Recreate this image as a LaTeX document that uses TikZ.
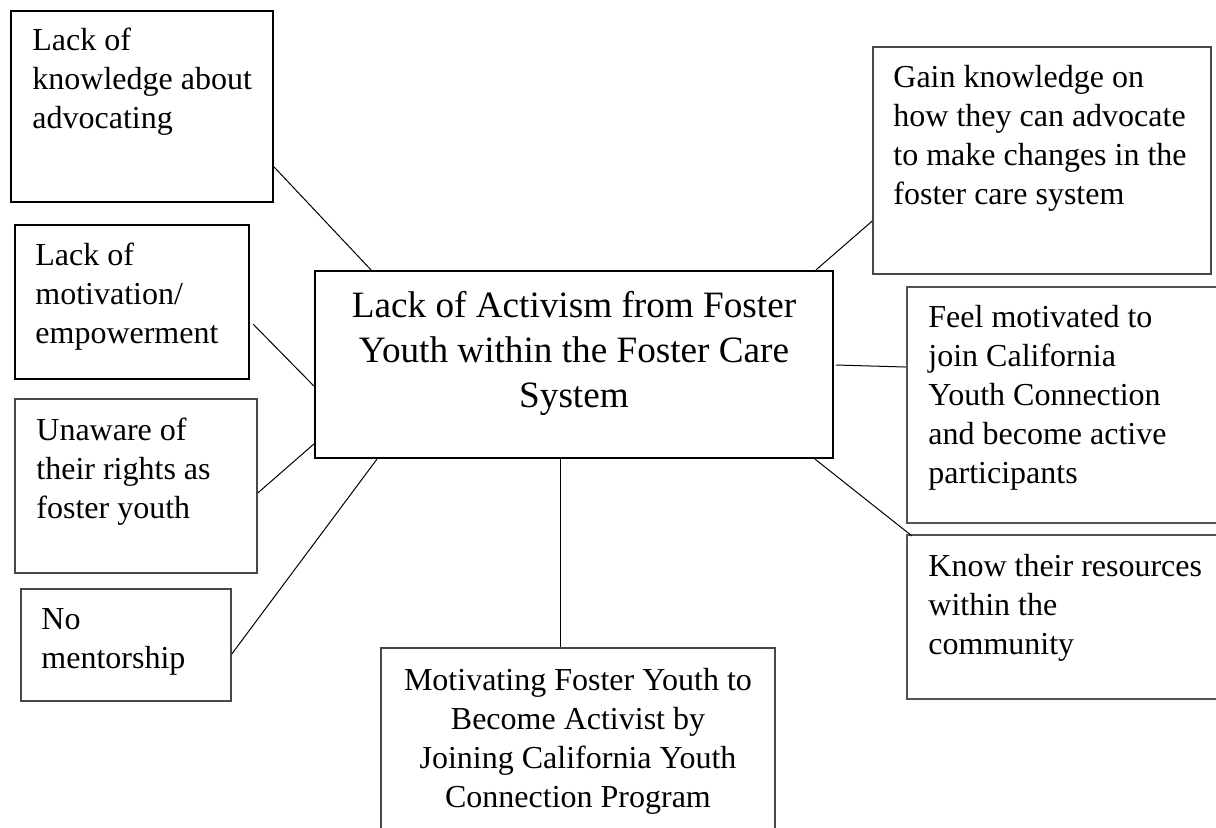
\documentclass[tikz,border=0pt]{standalone}
\usepackage{fontspec}
\setmainfont{Liberation Serif}
\usetikzlibrary{fit}
\begin{document}
\begin{tikzpicture}[x=0.5pt,y=-0.5pt,
  thickbox/.style={draw=black,line width=1.1pt,inner sep=0pt},
  thinbox/.style={draw=black!72,line width=0.75pt,inner sep=0pt},
  grayboxthick/.style={draw=black!68,line width=1.1pt,inner sep=0pt},
  txt/.style={font=\fontsize{16}{19.5}\selectfont,align=left,anchor=base west,inner sep=0pt},
  btxt/.style={font=\fontsize{16}{19.4}\selectfont,align=center,anchor=base,inner sep=0pt},
  ctxt/.style={font=\fontsize{18.6}{22.5}\selectfont,align=center,anchor=base,inner sep=0pt},
  link/.style={draw=black,line width=0.5pt}]
\useasboundingbox (0,0) rectangle (1216,827);
\fill[white] (0,0) rectangle (1216,827);

% boxes
\node[thickbox,fit={(11,11) (273,202)}] (b1) {};
\node[thickbox,fit={(15,225) (249,379)}] (b2) {};
\node[thinbox,fit={(15,399) (257,573)}] (b3) {};
\node[thinbox,fit={(21,589) (231,701)}] (b4) {};
\node[thickbox,fit={(315,271) (833,458)}] (c) {};
\node[thinbox,fit={(381,648) (775,840)}] (bot) {};
\node[thinbox,fit={(873,47) (1211,274)}] (r1) {};
\node[grayboxthick,fit={(907,287) (1230,523)}] (r2) {};
\node[grayboxthick,fit={(907,535) (1230,699)}] (r3) {};

% texts (anchored at the baseline of their last line)
\node[txt] (t1) at (32,128) {Lack of\\knowledge about\\advocating};
\node[txt] (t2) at (35,343) {Lack of\\motivation/\\empowerment};
\node[txt] (t3) at (36,518) {Unaware of\\their rights as\\foster youth};
\node[txt] (t4) at (41,668) {No\\mentorship};
\node[ctxt] (tc) at (574,407) {Lack of Activism from Foster\\Youth within the Foster Care\\System};
\node[btxt] (tb) at (578,807) {Motivating Foster Youth to\\Become Activist by\\Joining California Youth\\Connection Program};
\node[txt] (tr1) at (893,204) {Gain knowledge on\\how they can advocate\\to make changes in the\\foster care system};
\node[txt] (tr2) at (928,483) {Feel motivated to\\join California\\Youth Connection\\and become active\\participants};
\node[txt] (tr3) at (928,654) {Know their resources\\within the\\community};

% connector end points
\coordinate (p1) at (b1.east |- 0,167);
\coordinate (q1) at (c.north -| 371,0);
\coordinate (p2) at (253,324);
\coordinate (q2) at (c.west |- 0,386);
\coordinate (p3) at (b3.east |- 0,493);
\coordinate (q3) at (c.west |- 0,444);
\coordinate (p4) at (b4.east |- 0,654);
\coordinate (q4) at (c.south -| 377,0);
\coordinate (q5) at (c.south -| 560,0);
\coordinate (p5) at (bot.north -| 560,0);
\coordinate (q6) at (c.north -| 816,0);
\coordinate (p6) at (r1.west |- 0,221);
\coordinate (q7) at (836,365);
\coordinate (p7) at (r2.west |- 0,367);
\coordinate (q8) at (c.south -| 815,0);
\coordinate (p8) at (912,536);

\draw[link] (p1) -- (q1);
\draw[link] (p2) -- (q2);
\draw[link] (p3) -- (q3);
\draw[link] (p4) -- (q4);
\draw[link] (q5) -- (p5);
\draw[link] (q6) -- (p6);
\draw[link] (q7) -- (p7);
\draw[link] (q8) -- (p8);
\end{tikzpicture}
\end{document}
